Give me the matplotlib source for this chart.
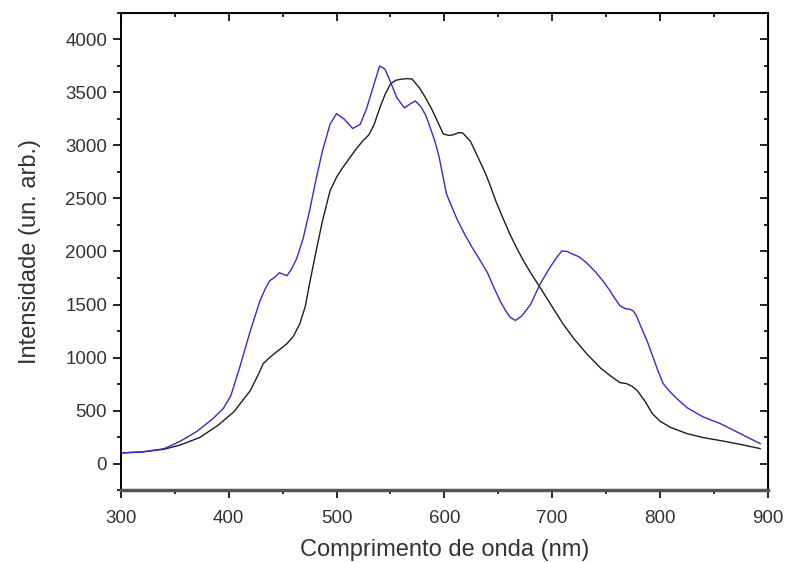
import matplotlib.pyplot as plt
from matplotlib.ticker import MultipleLocator

plt.rcParams['font.family'] = ['Liberation Sans', 'DejaVu Sans']

# blue spectrum
blue_x = [300, 320, 340, 355, 370, 385, 395, 402, 410, 420, 429, 434, 438, 443, 447,
          454, 458, 463, 469, 475, 481, 487, 494, 500, 507, 515, 522, 528, 533, 537,
          540, 545, 550, 556, 563, 568, 573, 578, 583, 587, 591, 595, 602, 607, 612,
          619, 626, 633, 640, 646, 652, 657, 661, 666, 672, 680, 689, 698, 704, 709,
          714, 718, 725, 732, 740, 747, 753, 758, 763, 768, 772, 775, 778, 782, 788,
          793, 798, 803, 809, 815, 825, 840, 856, 875, 893]
blue_y = [100, 110, 140, 210, 300, 420, 520, 640, 900, 1250, 1535, 1650, 1724, 1760, 1800,
          1771, 1830, 1931, 2120, 2383, 2680, 2950, 3200, 3300, 3250, 3160, 3200, 3350, 3520, 3650,
          3750, 3720, 3600, 3450, 3354, 3390, 3420, 3370, 3280, 3165, 3050, 2900, 2543, 2420, 2300,
          2160, 2035, 1920, 1800, 1660, 1530, 1440, 1380, 1350, 1394, 1500, 1696, 1850, 1940, 2006,
          2000, 1980, 1950, 1893, 1810, 1724, 1640, 1560, 1488, 1460, 1455, 1441, 1400, 1300, 1159,
          1020, 880, 754, 680, 620, 528, 440, 377, 280, 188]

# black spectrum
black_x = [300, 320, 340, 355, 373, 390, 405, 420, 427, 432, 438, 444, 454, 460, 466,
           471, 475, 481, 487, 494, 500, 505, 512, 519, 525, 530, 535, 540, 545, 550,
           555, 560, 565, 570, 577, 582, 588, 594, 599, 604, 608, 613, 617, 624, 628,
           633, 638, 642, 648, 655, 661, 667, 673, 680, 689, 700, 710, 720, 732, 745,
           755, 763, 769, 774, 779, 786, 793, 800, 810, 825, 840, 856, 875, 893]
black_y = [100, 110, 135, 175, 245, 360, 490, 688, 830, 942, 1000, 1050, 1130, 1200, 1319,
           1480, 1696, 2000, 2289, 2572, 2700, 2780, 2880, 2977, 3050, 3100, 3200, 3350, 3480, 3580,
           3615, 3625, 3630, 3627, 3542, 3460, 3350, 3220, 3109, 3095, 3100, 3120, 3118, 3043, 2960,
           2850, 2740, 2638, 2470, 2300, 2160, 2035, 1920, 1800, 1658, 1480, 1319, 1180, 1036, 900,
           820, 763, 754, 730, 688, 590, 471, 400, 340, 283, 245, 217, 180, 141]

x_ticks = [300, 400, 500, 600, 700, 800, 900]
y_ticks = [0, 500, 1000, 1500, 2000, 2500, 3000, 3500, 4000]

fig = plt.figure(figsize=(7.85, 5.62), dpi=100)
ax = fig.add_axes([0.154, 0.128, 0.824, 0.849])

ax.plot(black_x, black_y, color='#1e1e1e', lw=1.0)
ax.plot(blue_x, blue_y, color='#2f2fd0', lw=1.0)

ax.set_xlim(300, 900)
ax.set_ylim(-250, 4250)
ax.set_xticks(x_ticks)
ax.set_yticks(y_ticks)
ax.xaxis.set_minor_locator(MultipleLocator(50))
ax.yaxis.set_minor_locator(MultipleLocator(250))

ax.tick_params(which='both', direction='out', top=False, right=False, labelsize=13.5,
               width=1.2, labelcolor='#333333')
ax.tick_params(which='major', length=6, pad=4)
ax.tick_params(axis='x', which='major', pad=8)
ax.tick_params(which='minor', length=3)

# inward ticks on top and right, as in the original
axt = ax.secondary_xaxis('top')
axt.set_xticks(x_ticks)
axt.xaxis.set_minor_locator(MultipleLocator(50))
axt.tick_params(which='both', direction='in', labeltop=False, width=1.2)
axt.tick_params(which='major', length=6)
axt.tick_params(which='minor', length=3)
axr = ax.secondary_yaxis('right')
axr.set_yticks(y_ticks)
axr.yaxis.set_minor_locator(MultipleLocator(250))
axr.tick_params(which='both', direction='in', labelright=False, width=1.2)
axr.tick_params(which='major', length=6)
axr.tick_params(which='minor', length=3)

for s in ax.spines.values():
    s.set_linewidth(1.4)
ax.spines['bottom'].set_color('#555555')
ax.spines['bottom'].set_linewidth(2.5)

ax.set_xlabel("Comprimento de onda (nm)", fontsize=17, color='#333333', labelpad=9)
ax.set_ylabel("Intensidade (un. arb.)", fontsize=17, color='#333333', labelpad=17)

fig.savefig("out.png", dpi=100)
